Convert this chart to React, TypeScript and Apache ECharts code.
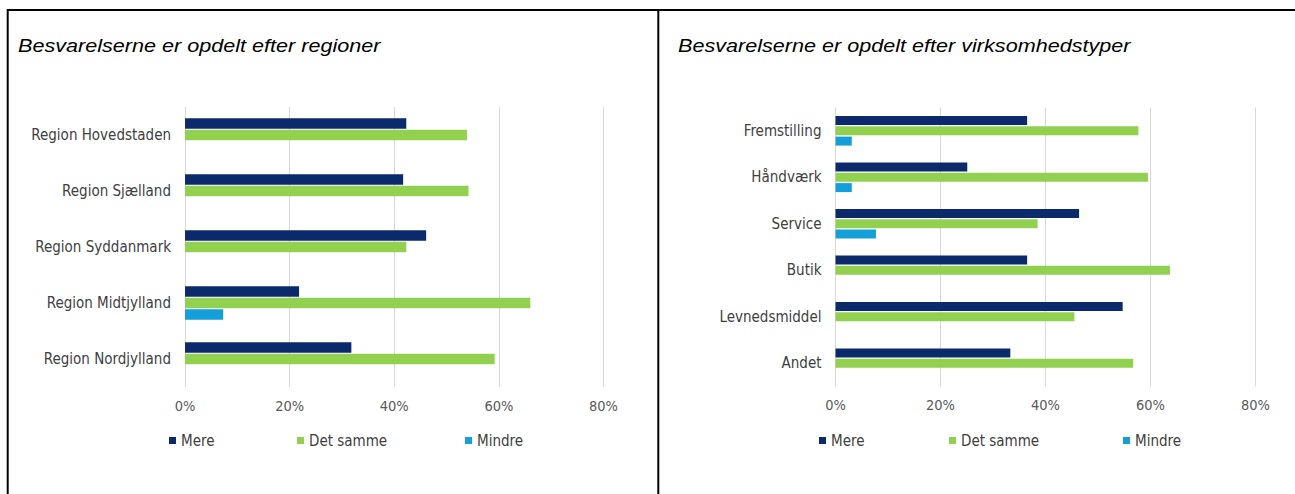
import React, { useEffect, useRef } from "react";
import * as echarts from "echarts";

const regions = ["Region Hovedstaden", "Region Sjælland", "Region Syddanmark", "Region Midtjylland", "Region Nordjylland"];
const regionMere = [42.3, 41.7, 46.1, 21.8, 31.8];
const regionSamme = [53.9, 54.2, 42.3, 66.0, 59.2];
const regionMindre = [null, null, null, 7.3, null];

const types = ["Fremstilling", "Håndværk", "Service", "Butik", "Levnedsmiddel", "Andet"];
const typeMere = [36.5, 25.1, 46.4, 36.5, 54.7, 33.3];
const typeSamme = [57.7, 59.5, 38.5, 63.7, 45.5, 56.7];
const typeMindre = [3.1, 3.1, 7.7, null, null, null];

const seriesNames = ["Mere", "Det samme", "Mindre"];
const colors = ["#0b2a6b", "#92d050", "#159fd9"];
const titles = ["Besvarelserne er opdelt efter regioner", "Besvarelserne er opdelt efter virksomhedstyper"];

const labelFont = '"DejaVu Sans Condensed", "DejaVu Sans", sans-serif';

export default function App() {
  const ref = useRef<HTMLDivElement>(null);
  useEffect(() => {
    if (!ref.current) return;
    const chart = echarts.init(ref.current, undefined, { renderer: "svg" });
    const xAxisBase = {
      type: "value",
      min: 0,
      max: 80,
      interval: 20,
      axisLine: { show: false },
      axisTick: { show: false },
      splitLine: { lineStyle: { color: "#d9d9d9", width: 1 } },
      axisLabel: { formatter: "{value}%", color: "#595959", fontSize: 14.5, fontFamily: labelFont, margin: 11 },
    };
    const yAxisBase = {
      type: "category",
      inverse: true,
      axisLine: { show: false },
      axisTick: { show: false },
      axisLabel: { color: "#404040", fontSize: 15, fontFamily: labelFont, margin: 14 },
    };
    const mk = (name: string, idx: number, data: (number | null)[], ci: number, bw: number, gap: string) => ({
      type: "bar",
      name,
      xAxisIndex: idx,
      yAxisIndex: idx,
      data,
      barWidth: bw,
      barGap: gap,
      itemStyle: { color: colors[ci] },
    });
    const legendItems: any[] = [];
    const lx = [
      [169, 297, 465],
      [819, 949, 1123],
    ];
    lx.forEach((row) =>
      row.forEach((x, i) =>
        legendItems.push({
          data: [seriesNames[i]],
          left: x,
          top: 433,
          padding: 0,
          icon: "rect",
          itemWidth: 7,
          itemHeight: 7,
          selectedMode: false,
          textStyle: { color: "#404040", fontSize: 15, fontFamily: labelFont },
        })
      )
    );
    chart.setOption({
      animation: false,
      backgroundColor: "#ffffff",
      grid: [
        { left: 185, top: 107, width: 418.5, height: 280, containLabel: false },
        { left: 835.5, top: 107.5, width: 420, height: 279, containLabel: false },
      ],
      xAxis: [
        { ...xAxisBase, gridIndex: 0 },
        { ...xAxisBase, gridIndex: 1 },
      ],
      yAxis: [
        { ...yAxisBase, gridIndex: 0, data: regions },
        { ...yAxisBase, gridIndex: 1, data: types },
      ],
      legend: legendItems,
      series: [
        mk("Mere", 0, regionMere, 0, 10.5, "10%"),
        mk("Det samme", 0, regionSamme, 1, 10.5, "10%"),
        mk("Mindre", 0, regionMindre, 2, 10.5, "10%"),
        mk("Mere", 1, typeMere, 0, 9, "15%"),
        mk("Det samme", 1, typeSamme, 1, 9, "15%"),
        mk("Mindre", 1, typeMindre, 2, 9, "15%"),
      ],
      graphic: [
        { type: "line", shape: { x1: 7.7, y1: 10, x2: 1295, y2: 10 }, style: { stroke: "#000", lineWidth: 2 } },
        { type: "line", shape: { x1: 7.7, y1: 9, x2: 7.7, y2: 494 }, style: { stroke: "#000", lineWidth: 2 } },
        { type: "line", shape: { x1: 658.3, y1: 9, x2: 658.3, y2: 494 }, style: { stroke: "#000", lineWidth: 2 } },
        {
          type: "text",
          x: 18,
          y: 46,
          scaleX: 1.2,
          style: { text: titles[0], fill: "#000", font: 'italic 18px "Liberation Sans", Arial, sans-serif', verticalAlign: "middle" },
        },
        {
          type: "text",
          x: 678,
          y: 46,
          scaleX: 1.2,
          style: { text: titles[1], fill: "#000", font: 'italic 18px "Liberation Sans", Arial, sans-serif', verticalAlign: "middle" },
        },
      ],
    });
    return () => chart.dispose();
  }, []);
  return <div ref={ref} style={{ position: "fixed", left: 0, top: 0, width: 1295, height: 494, background: "#fff" }} />;
}
